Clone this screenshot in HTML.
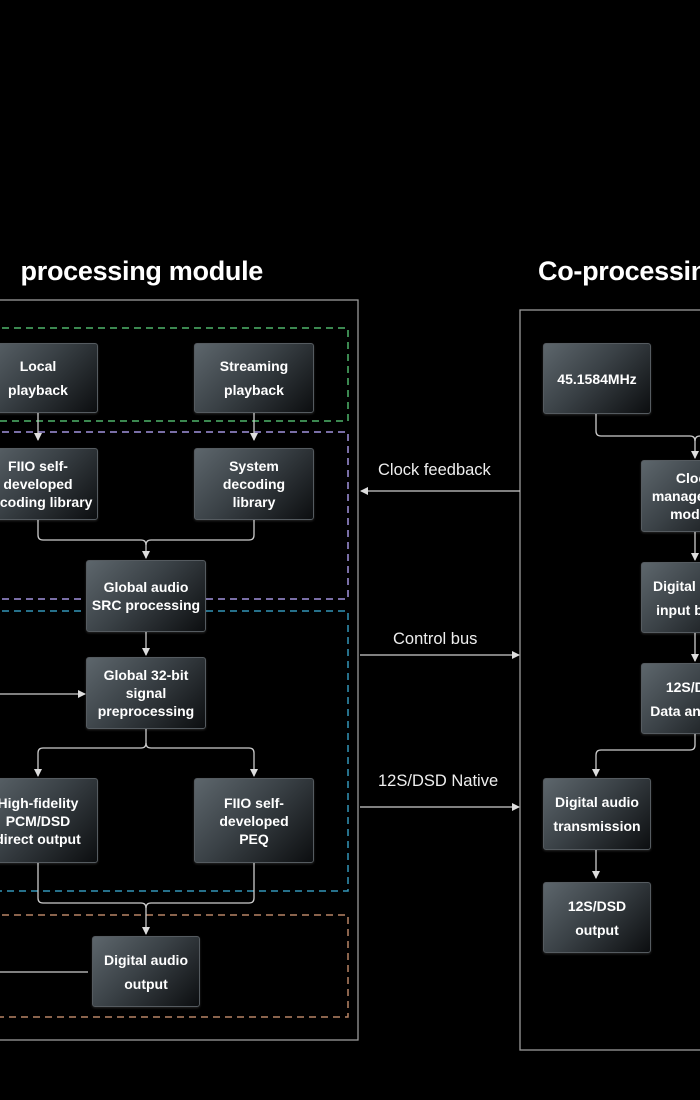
<!DOCTYPE html>
<html><head><meta charset="utf-8"><style>
html,body{margin:0;padding:0;background:#000;}
body{width:700px;height:1100px;position:relative;overflow:hidden;font-family:"Liberation Sans",sans-serif;color:#fff;}
.wrap{position:absolute;left:0;top:0;width:700px;height:1100px;overflow:hidden;}
.t{position:absolute;font-weight:bold;font-size:27px;white-space:nowrap;top:256px;letter-spacing:-0.3px;}
.b{position:absolute;box-sizing:border-box;border:1px solid #555b60;border-radius:3px;background:linear-gradient(135deg,#5d666c 0%,#3a4146 45%,#0c0e10 100%);display:flex;align-items:center;justify-content:center;text-align:center;font-weight:bold;font-size:14px;line-height:18px;box-shadow:0 1px 2px rgba(255,255,255,0.15);}
.b.l2{line-height:24px;}
.lab{position:absolute;font-size:16.5px;color:#eee;white-space:nowrap;}
svg{position:absolute;left:0;top:0;}
</style></head><body><div class="wrap">
<div class="t" style="right:437px;">processing module</div>
<div class="t" style="left:538px;">Co-processing module</div>
<svg width="700" height="1100">
<defs><marker id="a" markerWidth="8" markerHeight="8" refX="7" refY="4" orient="auto" markerUnits="userSpaceOnUse"><path d="M0,0 L8,4 L0,8 z" fill="#ddd"/></marker></defs>
<g fill="none" stroke-width="1.3">
<rect x="-10" y="300" width="368" height="740" stroke="#999"/>
<rect x="520" y="310" width="200" height="740" stroke="#999"/>
<g stroke-dasharray="7,5" stroke-width="1.5">
<path d="M-10,328 H348 V421 H-10" stroke="#4fb56a"/>
<path d="M-10,432 H348 V599 H-10" stroke="#a193dd"/>
<path d="M-10,611 H348 V891 H-10" stroke="#3395b8"/>
<path d="M-10,915 H348 V1017 H-10" stroke="#b88466"/>
</g>
<g stroke="#ccc">
<path d="M38,413 V440" marker-end="url(#a)"/>
<path d="M254,413 V440" marker-end="url(#a)"/>
<path d="M38,520 V535 Q38,540 43,540 H141 Q146,540 146,545 V558" marker-end="url(#a)"/>
<path d="M254,520 V535 Q254,540 249,540 H151 Q146,540 146,545"/>
<path d="M146,632 V655" marker-end="url(#a)"/>
<path d="M0,694 H85" marker-end="url(#a)"/>
<path d="M146,729 V743 Q146,748 141,748 H43 Q38,748 38,753 V776" marker-end="url(#a)"/>
<path d="M146,743 Q146,748 151,748 H249 Q254,748 254,753 V776" marker-end="url(#a)"/>
<path d="M38,863 V898 Q38,903 43,903 H141 Q146,903 146,908 V934" marker-end="url(#a)"/>
<path d="M254,863 V898 Q254,903 249,903 H151 Q146,903 146,908"/>
<path d="M0,972 H88"/>
<path d="M520,491 H361" marker-end="url(#a)"/>
<path d="M360,655 H519" marker-end="url(#a)"/>
<path d="M360,807 H519" marker-end="url(#a)"/>
<path d="M596,414 V431 Q596,436 601,436 H690 Q695,436 695,441 V458" marker-end="url(#a)"/>
<path d="M695,441 Q695,436 700,436"/>
<path d="M695,532 V560" marker-end="url(#a)"/>
<path d="M695,633 V661" marker-end="url(#a)"/>
<path d="M695,734 V745 Q695,750 690,750 H601 Q596,750 596,755 V776" marker-end="url(#a)"/>
<path d="M596,850 V878" marker-end="url(#a)"/>
</g></g></svg>
<div class="b l2" style="left:-22px;top:343px;width:120px;height:70px;">Local<br>playback</div>
<div class="b l2" style="left:194px;top:343px;width:120px;height:70px;">Streaming<br>playback</div>
<div class="b" style="left:-22px;top:448px;width:120px;height:72px;">FIIO self-<br>developed<br>decoding library</div>
<div class="b" style="left:194px;top:448px;width:120px;height:72px;">System<br>decoding<br>library</div>
<div class="b" style="left:86px;top:560px;width:120px;height:72px;">Global audio<br>SRC processing</div>
<div class="b" style="left:86px;top:657px;width:120px;height:72px;">Global 32-bit<br>signal<br>preprocessing</div>
<div class="b" style="left:-22px;top:778px;width:120px;height:85px;">High-fidelity<br>PCM/DSD<br>direct output</div>
<div class="b" style="left:194px;top:778px;width:120px;height:85px;">FIIO self-<br>developed<br>PEQ</div>
<div class="b l2" style="left:92px;top:936px;width:108px;height:71px;">Digital audio<br>output</div>
<div class="lab" style="left:378px;top:461px;">Clock feedback</div>
<div class="lab" style="left:393px;top:630px;">Control bus</div>
<div class="lab" style="left:378px;top:772px;">12S/DSD Native</div>
<div class="b" style="left:543px;top:343px;width:108px;height:71px;">45.1584MHz</div>
<div class="b" style="left:641px;top:460px;width:108px;height:72px;">Clock<br>management<br>module</div>
<div class="b l2" style="left:641px;top:562px;width:108px;height:71px;">Digital audio<br>input buffer</div>
<div class="b l2" style="left:641px;top:663px;width:108px;height:71px;">12S/DSD<br>Data analysis</div>
<div class="b l2" style="left:543px;top:778px;width:108px;height:72px;">Digital audio<br>transmission</div>
<div class="b l2" style="left:543px;top:882px;width:108px;height:71px;">12S/DSD<br>output</div>
</div></body></html>
